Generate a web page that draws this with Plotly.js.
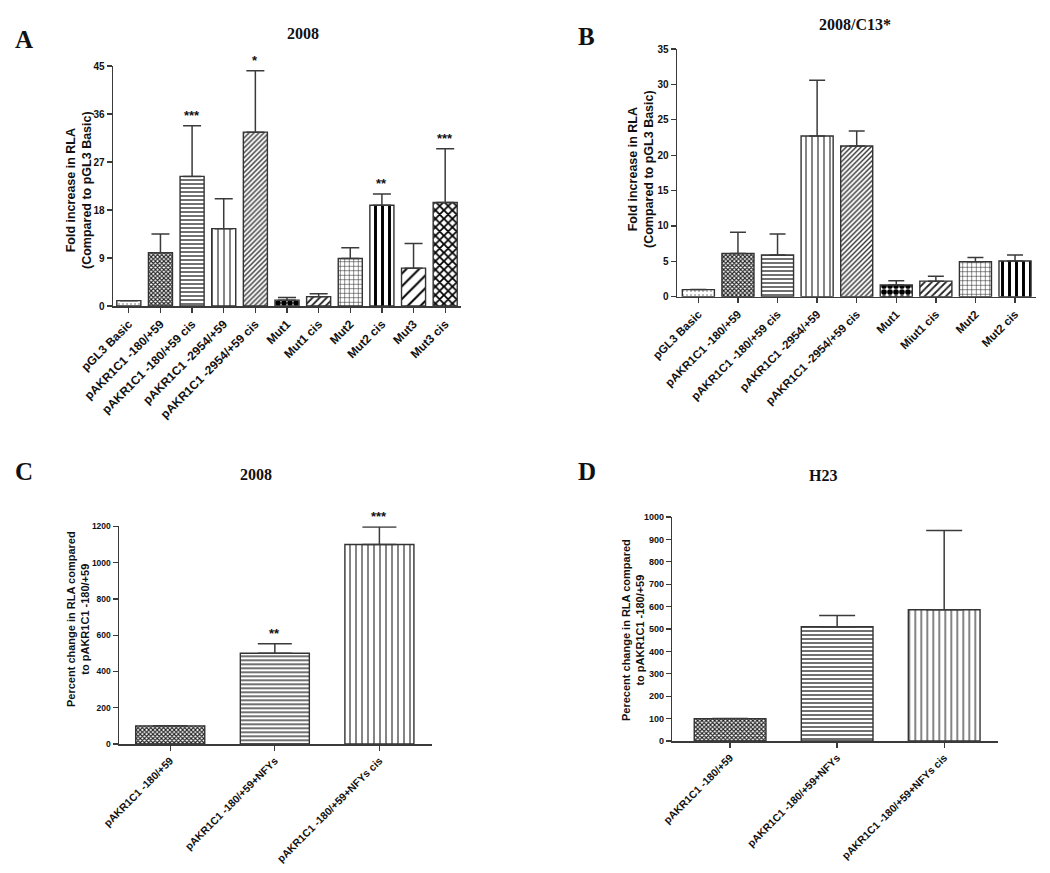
<!DOCTYPE html>
<html>
<head>
<meta charset="utf-8">
<script src="https://cdn.plot.ly/plotly-3.0.1.min.js"></script>
<style>html,body{margin:0;padding:0;background:#fff;}#chart{width:1050px;height:873px;}</style>
</head>
<body>
<div id="chart"></div>
<script>
// ---- Panel A data (2008) ----
const catsA = ["pGL3 Basic", "pAKR1C1 -180/+59", "pAKR1C1 -180/+59 cis", "pAKR1C1 -2954/+59", "pAKR1C1 -2954/+59 cis", "Mut1", "Mut1 cis", "Mut2", "Mut2 cis", "Mut3", "Mut3 cis"];
const valsA = [1.0, 10.0, 24.3, 14.5, 32.6, 1.1, 1.75, 8.9, 18.9, 7.1, 19.4];
const errA  = [0, 3.5, 9.5, 5.6, 11.5, 0.5, 0.55, 2.0, 2.1, 4.6, 10.1];
const starsA = ["", "", "***", "", "*", "", "", "", "**", "", "***"];

// ---- Panel B data (2008/C13*) ----
const catsB = ["pGL3 Basic", "pAKR1C1 -180/+59", "pAKR1C1 -180/+59 cis", "pAKR1C1 -2954/+59", "pAKR1C1 -2954/+59 cis", "Mut1", "Miut1 cis", "Mut2", "Mut2 cis"];
const valsB = [1.0, 6.1, 5.9, 22.7, 21.3, 1.65, 2.2, 4.95, 5.05];
const errB  = [0, 3.0, 2.95, 7.9, 2.1, 0.6, 0.7, 0.6, 0.85];

// ---- Panel C data (2008) ----
const catsC = ["pAKR1C1 -180/+59", "pAKR1C1 -180/+59+NFYs", "pAKR1C1 -180/+59+NFYs cis"];
const valsC = [100, 500, 1100];
const errC  = [0, 53, 96];
const starsC = ["", "**", "***"];

// ---- Panel D data (H23) ----
const catsD = ["pAKR1C1 -180/+59", "pAKR1C1 -180/+59+NFYs", "pAKR1C1 -180/+59+NFYs cis"];
const valsD = [100, 510, 586];
const errD  = [0, 50, 354];

// pattern styles (by construct type)
const patA = {
  shape:    [".", "x", "-", "|", "/", ".", "/", "+", "|", "/", "x"],
  size:     [4, 3, 4, 6, 3.5, 6, 5, 4.5, 7, 9, 6],
  solidity: [0.2, 0.6, 0.35, 0.2, 0.4, 0.7, 0.35, 0.22, 0.42, 0.22, 0.5],
  fg:       ["#aaa", "#222", "#333", "#333", "#333", "#000", "#222", "#222", "#000", "#000", "#000"]
};
const patC = {shape: ["x", "-", "|"], size: [3, 4, 6], solidity: [0.6, 0.35, 0.2], fg: ["#222", "#333", "#333"]};

const sans = "Liberation Sans, Arial, sans-serif";
const serif = "Liberation Serif, Times New Roman, serif";
const AX = "#3a3a3a";

function barTrace(cats, vals, errs, pat, n, xa, ya, width, capw) {
  return {
    type: "bar", x: cats, y: vals, xaxis: xa, yaxis: ya, width: width,
    marker: {
      color: "#fff",
      line: {color: "#333", width: 1.4},
      pattern: {
        shape: pat.shape.slice(0, n), size: pat.size.slice(0, n),
        solidity: pat.solidity.slice(0, n), fgcolor: pat.fg.slice(0, n),
        bgcolor: "#fff", fillmode: "replace"
      }
    },
    error_y: {type: "data", symmetric: false, array: errs, arrayminus: errs.map(() => 0),
              color: AX, thickness: 1.5, width: capw},
    hoverinfo: "x+y", showlegend: false
  };
}

const traces = [
  barTrace(catsA, valsA, errA, patA, 11, "x", "y", 0.76, 9),
  barTrace(catsB, valsB, errB, patA, 9, "x2", "y2", 0.81, 8),
  barTrace(catsC, valsC, errC, patC, 3, "x3", "y3", 0.66, 17),
  barTrace(catsD, valsD, errD, patC, 3, "x4", "y4", 0.67, 18)
];

function xaxis(dom, anchor, rng, cats, fs) {
  return {domain: dom, anchor: anchor, range: rng, type: "category",
    tickmode: "array", tickvals: cats, ticktext: cats.map(c => "<b>" + c + "</b>"),
    showline: true, linecolor: AX, linewidth: 1.5, showgrid: false, zeroline: false,
    ticks: "outside", ticklen: 5, tickcolor: AX, tickwidth: 1.3, tickangle: -45,
    tickfont: {family: sans, size: fs, color: "#111", weight: 700}, automargin: false, fixedrange: true};
}
function yaxis(dom, anchor, rng, dtick, fs) {
  return {domain: dom, anchor: anchor, range: rng, dtick: dtick, tick0: 0,
    showline: true, linecolor: AX, linewidth: 1.5, showgrid: false, zeroline: false,
    ticks: "outside", ticklen: 5, tickcolor: AX, tickwidth: 1.3,
    tickfont: {family: sans, size: fs, color: "#111", weight: 700},
    automargin: false, fixedrange: true};
}

const W = 1050, H = 873;
const px = v => v / W, py = v => 1 - v / H;

const annotations = [];
function starAnn(cats, vals, errs, stars, xa, ya) {
  stars.forEach((s, i) => {
    if (!s) return;
    annotations.push({x: cats[i], y: vals[i] + errs[i], xref: xa, yref: ya, text: "<b>" + s + "</b>", showarrow: false,
      yanchor: "bottom", yshift: 1, font: {family: sans, size: 13, color: "#111", weight: 700}});
  });
}
starAnn(catsA, valsA, errA, starsA, "x", "y");
starAnn(catsC, valsC, errC, starsC, "x3", "y3");

function paperText(t, x, y, size, fam, angle) {
  annotations.push({text: "<b>" + t + "</b>", x: px(x), y: py(y), xref: "paper", yref: "paper", showarrow: false,
    xanchor: "center", yanchor: "middle", textangle: angle || 0,
    font: {family: fam || serif, size: size, color: "#111", weight: 700}});
}
paperText("A", 24, 40, 25);
paperText("B", 586, 37, 25);
paperText("C", 24, 472, 25);
paperText("D", 587, 472, 25);
paperText("2008", 303, 34, 16);
paperText("2008/C13*", 855, 24, 16);
paperText("2008", 256, 475, 16);
paperText("H23", 823, 476, 16);
// y-axis titles
paperText("Fold increase in RLA<br>(Compared to pGL3 Basic)", 79, 190, 12.5, sans, -90);
paperText("Fold increase in RLA<br>(Compared to pGL3 Basic)", 641, 169, 12.5, sans, -90);
paperText("Percent change in RLA compared<br>to pAKR1C1 -180/+59", 78, 619, 11, sans, -90);
paperText("Perecent change in RLA compared<br>to pAKR1C1 -180/+59", 633, 630, 11, sans, -90);

const layout = {
  width: W, height: H, margin: {l: 0, r: 0, t: 0, b: 0},
  paper_bgcolor: "#fff", plot_bgcolor: "#fff", showlegend: false,
  barmode: "overlay",
  xaxis:  xaxis([px(113), px(461)], "y", [-0.5, 10.5], catsA, 12),
  yaxis:  yaxis([py(306), py(66)], "x", [0, 45], 9, 10),
  xaxis2: xaxis([px(677), px(1036)], "y2", [-0.54, 8.53], catsB, 11.5),
  yaxis2: yaxis([py(296.7), py(49)], "x2", [0, 35], 5, 10),
  xaxis3: xaxis([px(119), px(431.7)], "y3", [-0.49, 2.5], catsC, 10.5),
  yaxis3: yaxis([py(744), py(526.3)], "x3", [0, 1200], 200, 8.5),
  xaxis4: xaxis([px(672.3), px(997.7)], "y4", [-0.54, 2.5], catsD, 10.5),
  yaxis4: yaxis([py(741), py(517)], "x4", [0, 1000], 100, 9),
  annotations: annotations
};

Plotly.newPlot("chart", traces, layout, {displayModeBar: false, staticPlot: true});
</script>
</body>
</html>
